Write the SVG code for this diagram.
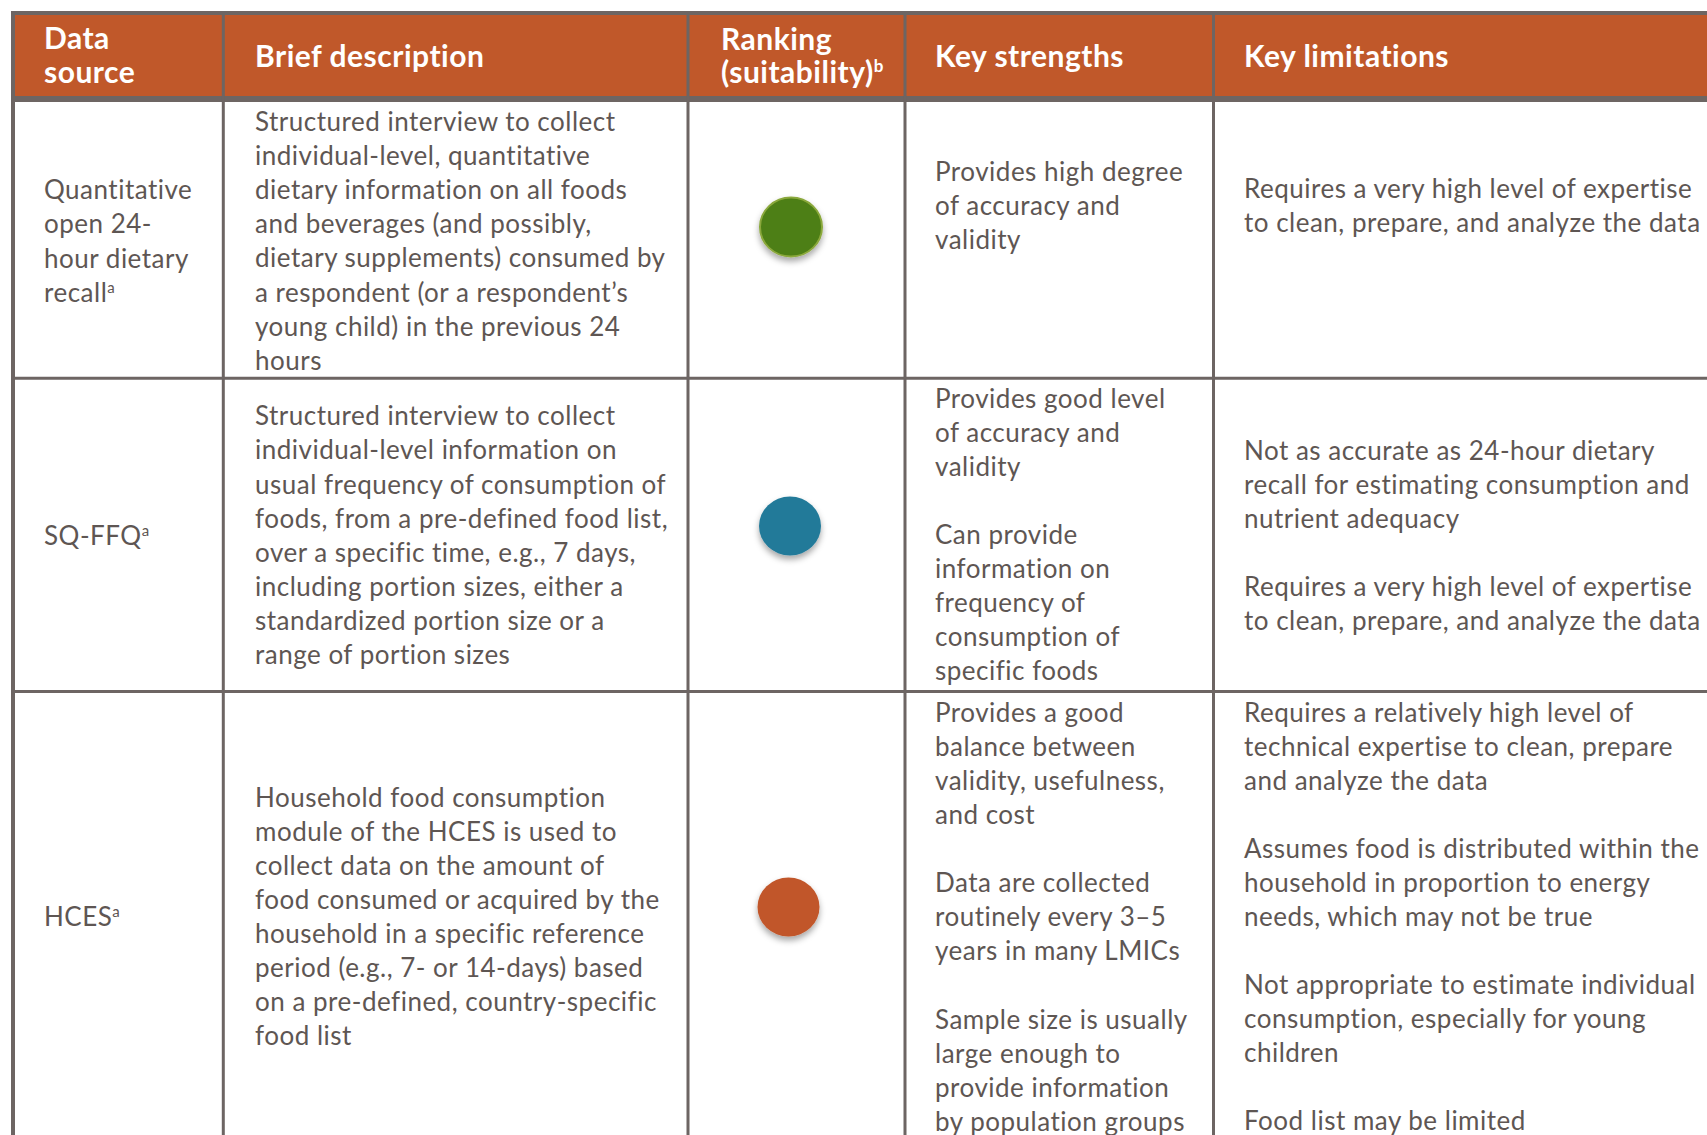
<svg xmlns="http://www.w3.org/2000/svg" width="1707" height="1135" viewBox="0 0 1707 1135">
<defs>
<style>
.t{font-family:Lato,"Liberation Sans",sans-serif;font-size:26px;letter-spacing:0.5px;fill:#5e5653}
.h{font-family:Lato,"Liberation Sans",sans-serif;font-weight:bold;font-size:30px;letter-spacing:0.5px;fill:#ffffff}
.sup{font-size:15px;letter-spacing:0}
.hsup{font-size:17px;letter-spacing:0}
.ln{stroke:#6d6563;fill:none}
</style>
<filter id="sh" x="-50%" y="-50%" width="200%" height="200%">
<feDropShadow dx="0" dy="4" stdDeviation="3" flood-color="#000" flood-opacity="0.35"/>
</filter>
</defs>
<rect width="1707" height="1135" fill="#ffffff"/>
<rect x="15" y="15" width="1692" height="81" fill="#c0582a"/>
<g id="grid">
<line class="ln" x1="11" y1="13" x2="1707" y2="13" stroke-width="4"/>
<line class="ln" x1="13" y1="11" x2="13" y2="1135" stroke-width="4"/>
<line class="ln" x1="15" y1="99" x2="1707" y2="99" stroke-width="6"/>
<line class="ln" x1="223.3" y1="15" x2="223.3" y2="1135" stroke-width="3"/>
<line class="ln" x1="688" y1="15" x2="688" y2="1135" stroke-width="3"/>
<line class="ln" x1="905" y1="15" x2="905" y2="1135" stroke-width="3"/>
<line class="ln" x1="1213.5" y1="15" x2="1213.5" y2="1135" stroke-width="3"/>
<line class="ln" x1="15" y1="378.3" x2="1707" y2="378.3" stroke-width="3"/>
<line class="ln" x1="15" y1="691.5" x2="1707" y2="691.5" stroke-width="3"/>
</g>
<g id="header">
<text class="h"><tspan x="44" y="49">Data</tspan><tspan x="44" y="83">source</tspan></text>
<text class="h" x="255" y="67">Brief description</text>
<text class="h"><tspan x="721" y="50">Ranking</tspan><tspan x="721" y="83">(suitability)<tspan class="hsup" dy="-11">b</tspan></tspan></text>
<text class="h" x="935" y="67">Key strengths</text>
<text class="h" x="1244" y="67">Key limitations</text>
</g>
<g id="row1-source">
<text class="t"><tspan x="44" y="199">Quantitative</tspan><tspan x="44" y="233">open 24-</tspan><tspan x="44" y="268">hour dietary</tspan><tspan x="44" y="302">recall<tspan class="sup" dy="-9">a</tspan></tspan></text>
</g>
<g id="row1-desc">
<text class="t"><tspan x="255" y="131">Structured interview to collect</tspan><tspan x="255" y="165">individual-level, quantitative</tspan><tspan x="255" y="199">dietary information on all foods</tspan><tspan x="255" y="233">and beverages (and possibly,</tspan><tspan x="255" y="267">dietary supplements) consumed by</tspan><tspan x="255" y="302">a respondent (or a respondent’s</tspan><tspan x="255" y="336">young child) in the previous 24</tspan><tspan x="255" y="370">hours</tspan></text>
</g>
<g id="row1-rank">
<ellipse cx="791" cy="227" rx="31" ry="29.5" fill="#4e7f14" stroke="#8aa83c" stroke-width="2" filter="url(#sh)"/>
</g>
<g id="row1-strengths">
<text class="t"><tspan x="935" y="181">Provides high degree</tspan><tspan x="935" y="215">of accuracy and</tspan><tspan x="935" y="249">validity</tspan></text>
</g>
<g id="row1-limitations">
<text class="t"><tspan x="1244" y="198">Requires a very high level of expertise</tspan><tspan x="1244" y="232">to clean, prepare, and analyze the data</tspan></text>
</g>
<g id="row2-source">
<text class="t" x="44" y="545">SQ-FFQ<tspan class="sup" dy="-9">a</tspan></text>
</g>
<g id="row2-desc">
<text class="t"><tspan x="255" y="425">Structured interview to collect</tspan><tspan x="255" y="459">individual-level information on</tspan><tspan x="255" y="494">usual frequency of consumption of</tspan><tspan x="255" y="528">foods, from a pre-defined food list,</tspan><tspan x="255" y="562">over a specific time, e.g., 7 days,</tspan><tspan x="255" y="596">including portion sizes, either a</tspan><tspan x="255" y="630">standardized portion size or a</tspan><tspan x="255" y="664">range of portion sizes</tspan></text>
</g>
<g id="row2-rank">
<ellipse cx="790" cy="526" rx="31" ry="29.5" fill="#237a99" filter="url(#sh)"/>
</g>
<g id="row2-strengths">
<text class="t"><tspan x="935" y="408">Provides good level</tspan><tspan x="935" y="442">of accuracy and</tspan><tspan x="935" y="476">validity</tspan><tspan x="935" y="544">Can provide</tspan><tspan x="935" y="578">information on</tspan><tspan x="935" y="612">frequency of</tspan><tspan x="935" y="646">consumption of</tspan><tspan x="935" y="680">specific foods</tspan></text>
</g>
<g id="row2-limitations">
<text class="t"><tspan x="1244" y="460">Not as accurate as 24-hour dietary</tspan><tspan x="1244" y="494">recall for estimating consumption and</tspan><tspan x="1244" y="528">nutrient adequacy</tspan><tspan x="1244" y="596">Requires a very high level of expertise</tspan><tspan x="1244" y="630">to clean, prepare, and analyze the data</tspan></text>
</g>
<g id="row3-source">
<text class="t" x="44" y="926">HCES<tspan class="sup" dy="-9">a</tspan></text>
</g>
<g id="row3-desc">
<text class="t"><tspan x="255" y="807">Household food consumption</tspan><tspan x="255" y="841">module of the HCES is used to</tspan><tspan x="255" y="875">collect data on the amount of</tspan><tspan x="255" y="909">food consumed or acquired by the</tspan><tspan x="255" y="943">household in a specific reference</tspan><tspan x="255" y="977">period (e.g., 7- or 14-days) based</tspan><tspan x="255" y="1011">on a pre-defined, country-specific</tspan><tspan x="255" y="1045">food list</tspan></text>
</g>
<g id="row3-rank">
<ellipse cx="788.5" cy="907" rx="31" ry="29.5" fill="#c1572a" filter="url(#sh)"/>
</g>
<g id="row3-strengths">
<text class="t"><tspan x="935" y="722">Provides a good</tspan><tspan x="935" y="756">balance between</tspan><tspan x="935" y="790">validity, usefulness,</tspan><tspan x="935" y="824">and cost</tspan><tspan x="935" y="892">Data are collected</tspan><tspan x="935" y="926">routinely every 3–5</tspan><tspan x="935" y="960">years in many LMICs</tspan><tspan x="935" y="1029">Sample size is usually</tspan><tspan x="935" y="1063">large enough to</tspan><tspan x="935" y="1097">provide information</tspan><tspan x="935" y="1131">by population groups</tspan></text>
</g>
<g id="row3-limitations">
<text class="t"><tspan x="1244" y="722">Requires a relatively high level of</tspan><tspan x="1244" y="756">technical expertise to clean, prepare</tspan><tspan x="1244" y="790">and analyze the data</tspan><tspan x="1244" y="858">Assumes food is distributed within the</tspan><tspan x="1244" y="892">household in proportion to energy</tspan><tspan x="1244" y="926">needs, which may not be true</tspan><tspan x="1244" y="994">Not appropriate to estimate individual</tspan><tspan x="1244" y="1028">consumption, especially for young</tspan><tspan x="1244" y="1062">children</tspan><tspan x="1244" y="1130">Food list may be limited</tspan></text>
</g>
</svg>
